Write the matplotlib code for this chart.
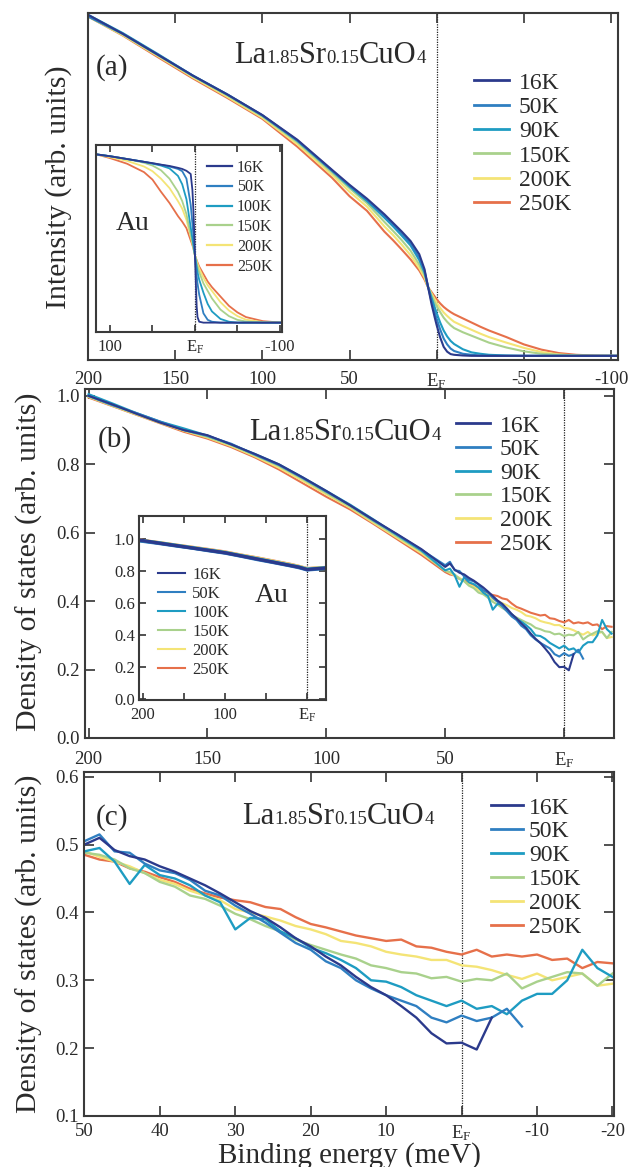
import numpy as np
import matplotlib
matplotlib.use("Agg")
import matplotlib.pyplot as plt
from matplotlib.offsetbox import TextArea, HPacker, AnnotationBbox

plt.rcParams["font.family"] = ["Liberation Serif", "DejaVu Serif"]
plt.rcParams["mathtext.fontset"] = "custom"
plt.rcParams["mathtext.rm"] = "Liberation Serif"
plt.rcParams["mathtext.it"] = "Liberation Serif:italic"
plt.rcParams["mathtext.bf"] = "Liberation Serif:bold"

nan = np.nan

# ---------------- data ----------------
labels_lsco = ["16K", "50K", "90K", "150K", "200K", "250K"]
labels_au = ["16K", "50K", "100K", "150K", "200K", "250K"]
colors = ["#2b3a8c", "#2f7fc1", "#1e9cc2", "#a9d18c", "#f4e476", "#e6704a"]

# (a) raw spectra of LSCO
energy_a = [200, 180, 160, 140, 120, 100, 80, 60, 50, 40, 30, 25, 20, 15, 10, 7, 5, 3, 1, 0,
            -2, -4, -6, -8, -10, -15, -20, -25, -30, -40, -50, -60, -70, -80, -90, -104]
a_16K = [0.995, 0.94, 0.88, 0.82, 0.765, 0.706, 0.635, 0.548, 0.505, 0.465, 0.42, 0.395, 0.37, 0.343,
         0.305, 0.262, 0.212, 0.162, 0.12, 0.10,
         0.065, 0.038, 0.024, 0.017, 0.015, 0.013, 0.012, 0.012, 0.012, 0.012, 0.012, 0.012, 0.012,
         0.012, 0.012, 0.012]
a_50K = [0.99, 0.94, 0.88, 0.82, 0.765, 0.705, 0.633, 0.546, 0.503, 0.462, 0.415, 0.39, 0.364, 0.336,
         0.295, 0.258, 0.212, 0.17, 0.135, 0.118,
         0.088, 0.062, 0.045, 0.033, 0.026, 0.018, 0.015, 0.013, 0.012, 0.012, 0.012, 0.012, 0.012,
         0.012, 0.012, 0.012]
a_90K = [0.995, 0.942, 0.882, 0.82, 0.765, 0.705, 0.632, 0.545, 0.50, 0.458, 0.41, 0.385, 0.358, 0.33,
         0.288, 0.252, 0.212, 0.18, 0.15, 0.135,
         0.108, 0.085, 0.068, 0.055, 0.046, 0.031, 0.022, 0.018, 0.015, 0.013, 0.012, 0.012, 0.012,
         0.012, 0.012, 0.012]
a_150K = [0.99, 0.938, 0.878, 0.818, 0.762, 0.702, 0.628, 0.54, 0.495, 0.452, 0.398, 0.372, 0.345, 0.315,
          0.275, 0.245, 0.211, 0.188, 0.165, 0.155,
          0.138, 0.122, 0.11, 0.10, 0.092, 0.08, 0.07, 0.06, 0.05, 0.036, 0.025, 0.018, 0.015,
          0.013, 0.012, 0.012]
a_200K = [0.99, 0.936, 0.876, 0.815, 0.758, 0.698, 0.622, 0.533, 0.485, 0.442, 0.385, 0.36, 0.332, 0.302,
          0.265, 0.238, 0.21, 0.192, 0.174, 0.165,
          0.15, 0.137, 0.127, 0.118, 0.11, 0.098, 0.087, 0.076, 0.066, 0.05, 0.035, 0.023, 0.016,
          0.013, 0.012, 0.012]
a_250K = [0.99, 0.935, 0.873, 0.812, 0.755, 0.695, 0.615, 0.525, 0.472, 0.43, 0.37, 0.345, 0.318, 0.29,
          0.258, 0.232, 0.21, 0.196, 0.182, 0.175,
          0.163, 0.153, 0.145, 0.138, 0.132, 0.12, 0.108, 0.096, 0.085, 0.066, 0.045, 0.03, 0.02,
          0.015, 0.013, 0.012]

# (a) inset: Au Fermi edges
energy_au = [116, 100, 80, 60, 50, 40, 30, 20, 15, 10, 5, 3, 2, 1, 0,
             -1, -2, -3, -5, -10, -15, -20, -30, -40, -50, -60, -80, -102]
au_16K = [0.95, 0.94, 0.925, 0.91, 0.903, 0.895, 0.888, 0.878, 0.872, 0.862, 0.845, 0.76, 0.67, 0.55, 0.41,
          0.27, 0.14, 0.08, 0.055, 0.05, 0.05, 0.05, 0.05, 0.05, 0.05, 0.05, 0.05, 0.05]
au_50K = [0.95, 0.94, 0.925, 0.91, 0.902, 0.894, 0.885, 0.872, 0.86, 0.82, 0.68, 0.58, 0.53, 0.47, 0.41,
          0.35, 0.30, 0.26, 0.20, 0.10, 0.065, 0.055, 0.05, 0.05, 0.05, 0.05, 0.05, 0.05]
au_100K = [0.95, 0.94, 0.925, 0.91, 0.90, 0.89, 0.875, 0.835, 0.79, 0.71, 0.56, 0.50, 0.47, 0.44, 0.41,
           0.38, 0.35, 0.32, 0.28, 0.21, 0.15, 0.11, 0.07, 0.055, 0.05, 0.05, 0.05, 0.05]
au_150K = [0.95, 0.94, 0.925, 0.905, 0.89, 0.865, 0.82, 0.75, 0.70, 0.63, 0.52, 0.48, 0.46, 0.435, 0.41,
           0.39, 0.37, 0.35, 0.32, 0.26, 0.22, 0.18, 0.12, 0.085, 0.065, 0.056, 0.05, 0.05]
au_200K = [0.95, 0.935, 0.915, 0.885, 0.86, 0.82, 0.77, 0.70, 0.66, 0.60, 0.51, 0.475, 0.455, 0.43, 0.41,
           0.395, 0.38, 0.365, 0.34, 0.29, 0.25, 0.22, 0.16, 0.115, 0.085, 0.066, 0.053, 0.05]
au_250K = [0.95, 0.93, 0.90, 0.855, 0.815, 0.75, 0.69, 0.62, 0.59, 0.555, 0.49, 0.465, 0.45, 0.43, 0.41,
           0.397, 0.385, 0.372, 0.35, 0.31, 0.27, 0.24, 0.19, 0.14, 0.105, 0.08, 0.058, 0.05]

# (b),(c) density of states of LSCO
energy_dos = [200, 190, 180, 170, 160, 150, 140, 130, 120, 110, 100, 90, 80, 70, 60,
              50, 48, 46, 44, 42, 40, 38, 36, 34, 32, 30, 28, 26, 24, 22, 20, 18, 16, 14, 12,
              10, 8, 6, 4, 2, 0, -2, -4, -6, -8, -10, -12, -14, -16, -18, -20]
dos_16K = [1.0, 0.975, 0.948, 0.922, 0.9, 0.885, 0.858, 0.83, 0.8, 0.762, 0.722, 0.68, 0.637, 0.595, 0.552,
           0.500, 0.510, 0.492, 0.483, 0.478, 0.468, 0.460, 0.450, 0.440, 0.428, 0.415, 0.402, 0.392,
           0.378, 0.362, 0.350, 0.335, 0.322, 0.305, 0.290, 0.278, 0.262, 0.245, 0.222, 0.207, 0.208,
           0.198, 0.245, nan, nan, nan, nan, nan, nan, nan, nan]
dos_50K = [1.0, 0.973, 0.95, 0.925, 0.9, 0.883, 0.86, 0.828, 0.798, 0.76, 0.72, 0.68, 0.635, 0.594, 0.55,
           0.505, 0.515, 0.490, 0.488, 0.472, 0.462, 0.458, 0.448, 0.432, 0.425, 0.410, 0.398, 0.385,
           0.370, 0.355, 0.345, 0.328, 0.318, 0.300, 0.288, 0.278, 0.270, 0.262, 0.245, 0.238, 0.248,
           0.240, 0.245, 0.258, 0.232, nan, nan, nan, nan, nan, nan]
dos_90K = [1.005, 0.978, 0.95, 0.925, 0.905, 0.884, 0.858, 0.83, 0.8, 0.762, 0.722, 0.682, 0.638, 0.592, 0.548,
           0.490, 0.495, 0.475, 0.442, 0.470, 0.455, 0.450, 0.440, 0.425, 0.415, 0.375, 0.392, 0.390,
           0.372, 0.362, 0.348, 0.340, 0.330, 0.318, 0.300, 0.298, 0.290, 0.278, 0.270, 0.262, 0.270,
           0.258, 0.262, 0.250, 0.270, 0.280, 0.280, 0.300, 0.345, 0.318, 0.305]
dos_150K = [0.998, 0.972, 0.947, 0.922, 0.9, 0.88, 0.856, 0.826, 0.795, 0.757, 0.716, 0.676, 0.632, 0.588, 0.545,
            0.488, 0.485, 0.478, 0.465, 0.458, 0.445, 0.438, 0.425, 0.420, 0.410, 0.398, 0.390, 0.380,
            0.372, 0.360, 0.352, 0.345, 0.338, 0.332, 0.322, 0.318, 0.312, 0.310, 0.303, 0.305, 0.298,
            0.302, 0.300, 0.310, 0.288, 0.298, 0.305, 0.312, 0.310, 0.292, 0.310]
dos_200K = [0.997, 0.971, 0.946, 0.921, 0.898, 0.878, 0.853, 0.823, 0.79, 0.752, 0.712, 0.673, 0.628, 0.584, 0.54,
            0.490, 0.482, 0.475, 0.468, 0.458, 0.448, 0.442, 0.432, 0.425, 0.418, 0.405, 0.400, 0.394,
            0.388, 0.380, 0.375, 0.368, 0.358, 0.355, 0.350, 0.342, 0.338, 0.335, 0.330, 0.330, 0.322,
            0.320, 0.315, 0.308, 0.302, 0.310, 0.300, 0.305, 0.310, 0.292, 0.295]
dos_250K = [0.995, 0.97, 0.945, 0.92, 0.895, 0.875, 0.85, 0.82, 0.785, 0.745, 0.705, 0.668, 0.625, 0.58, 0.535,
            0.485, 0.478, 0.475, 0.465, 0.460, 0.452, 0.445, 0.435, 0.428, 0.422, 0.418, 0.415, 0.408,
            0.405, 0.393, 0.383, 0.378, 0.372, 0.366, 0.362, 0.358, 0.360, 0.350, 0.348, 0.342, 0.338,
            0.345, 0.335, 0.338, 0.335, 0.338, 0.330, 0.332, 0.318, 0.327, 0.325]

# (b) inset: Au density of states
energy_au_dos = [205, 180, 160, 140, 120, 100, 80, 60, 40, 20, 10, 0, -10, -23]
au_dos_16K = [0.995, 0.975, 0.96, 0.945, 0.93, 0.915, 0.895, 0.875, 0.855, 0.835, 0.825, 0.81, 0.815, 0.82]
au_dos_50K = [0.99, 0.973, 0.958, 0.944, 0.928, 0.913, 0.893, 0.872, 0.853, 0.833, 0.822, 0.808, 0.812, 0.818]
au_dos_100K = [0.992, 0.976, 0.961, 0.946, 0.931, 0.916, 0.896, 0.876, 0.856, 0.836, 0.826, 0.812, 0.816, 0.82]
au_dos_150K = [0.993, 0.977, 0.962, 0.947, 0.932, 0.917, 0.898, 0.878, 0.858, 0.838, 0.828, 0.814, 0.818, 0.822]
au_dos_200K = [0.994, 0.977, 0.962, 0.948, 0.933, 0.918, 0.899, 0.88, 0.86, 0.84, 0.829, 0.815, 0.818, 0.822]
au_dos_250K = [0.995, 0.978, 0.963, 0.949, 0.935, 0.92, 0.9, 0.882, 0.862, 0.842, 0.83, 0.816, 0.819, 0.823]

series_a = [a_16K, a_50K, a_90K, a_150K, a_200K, a_250K]
series_au = [au_16K, au_50K, au_100K, au_150K, au_200K, au_250K]
series_dos = [dos_16K, dos_50K, dos_90K, dos_150K, dos_200K, dos_250K]
series_au_dos = [au_dos_16K, au_dos_50K, au_dos_100K, au_dos_150K, au_dos_200K, au_dos_250K]

# ---------------- figure ----------------
W, H = 633, 1167
fig = plt.figure(figsize=(W / 100, H / 100), dpi=100)
TXT = "#2a2a2a"
EF = r"$\mathrm{E_F}$"


def add_ax(l, t, r, b):
    return fig.add_axes([l / W, 1 - b / H, (r - l) / W, (b - t) / H])


def style(ax, length=7, size=13.5, xpad=7, ypad=4):
    ax.tick_params(direction="in", top=True, right=True, length=length, width=1.2,
                   labelsize=size, colors="#333333", labelcolor=TXT)
    ax.tick_params(axis="x", pad=xpad)
    ax.tick_params(axis="y", pad=ypad)
    for s in ax.spines.values():
        s.set_linewidth(1.5)
        s.set_color("#3a3a3a")


def draw(ax, x, series, labels, lw):
    lines = [None] * len(series)
    for i in reversed(range(len(series))):
        lines[i], = ax.plot(x, series[i], color=colors[i], lw=lw, label=labels[i])
    return lines


def legend_px(ax, lines, labels, left, top, fs, hl, htp, ls, handle_lw=None):
    leg = ax.legend(lines, labels, loc="upper left", bbox_to_anchor=(left / W, 1 - top / H),
                    bbox_transform=fig.transFigure, frameon=False, fontsize=fs, handlelength=hl,
                    handletextpad=htp, labelspacing=ls, borderpad=0, borderaxespad=0,
                    labelcolor=TXT)
    if handle_lw is not None:
        for h in leg.get_lines():
            h.set_linewidth(handle_lw)
    return leg


def formula(x_left, baseline):
    parts = [("La", 22), ("1.85", 13.5), ("Sr", 22), ("0.15", 13.5), ("CuO", 22), ("4", 13.5)]
    boxes = [TextArea(t, textprops=dict(fontsize=s, color=TXT)) for t, s in parts]
    pack = HPacker(children=boxes, align="baseline", pad=0, sep=0)
    desc = 0.217 * 22 * 100 / 72
    ab = AnnotationBbox(pack, (x_left, H - baseline - desc), xycoords="figure pixels",
                        box_alignment=(0, 0), frameon=False, pad=0)
    fig.add_artist(ab)


def ef_line(ax):
    ax.axvline(0, color="#222222", lw=0.9, ls=(0, (1, 1)), zorder=0.5)


def label_px(x, y, s, size, **kw):
    fig.text(x / W, 1 - y / H, s, fontsize=size, ha="center", va="center", color=TXT, **kw)


# ---- panel (a) ----
ax_a = add_ax(88, 13, 618, 360)
lines = draw(ax_a, energy_a, series_a, labels_lsco, 1.5)
ef_line(ax_a)
ax_a.set_xlim(200, -104)
ax_a.set_ylim(0, 1)
ax_a.set_yticks([])
ax_a.set_xticks([200, 150, 100, 50, 0, -50, -100])
ax_a.set_xticklabels(["200", "150", "100", "50", EF, "-50", "-100"])
style(ax_a, xpad=8)
legend_px(ax_a, lines, labels_lsco, 474, 72, 17, 1.48, 0.42, 0.12, handle_lw=2.0)
label_px(112, 68, "(a)", 21)
label_px(59, 187, "Intensity (arb. units)", 21.5, rotation=90)
formula(234, 63)

# ---- inset (a) ----
ax_ai = add_ax(96, 145, 282, 332)
lines = draw(ax_ai, energy_au, series_au, labels_au, 1.3)
ef_line(ax_ai)
ax_ai.set_xlim(116.5, -102.5)
ax_ai.set_ylim(0, 1)
ax_ai.set_yticks([])
ax_ai.set_xticks([100, 50, 0, -50, -100])
ax_ai.set_xticklabels(["100", "", EF, "", "-100"])
style(ax_ai, length=5, size=12, xpad=5)
legend_px(ax_ai, lines, labels_au, 207, 159.5, 11.5, 1.56, 0.31, 0.24, handle_lw=1.6)
label_px(133, 223, "Au", 20)

# ---- panel (b) ----
ax_b = add_ax(85, 389, 614, 738)
lines = draw(ax_b, energy_dos, series_dos, labels_lsco, 1.5)
ef_line(ax_b)
ax_b.set_xlim(201.5, -21)
ax_b.set_ylim(0, 1.02)
ax_b.set_xticks([200, 150, 100, 50, 0])
ax_b.set_xticklabels(["200", "150", "100", "50", EF])
ax_b.set_yticks([0, 0.2, 0.4, 0.6, 0.8, 1.0])
ax_b.set_yticklabels(["0.0", "0.2", "0.4", "0.6", "0.8", "1.0"])
style(ax_b, xpad=9)
legend_px(ax_b, lines, labels_lsco, 456, 415, 17, 1.44, 0.42, 0.09, handle_lw=2.0)
label_px(115, 440, "(b)", 21)
label_px(29, 562, "Density of states (arb. units)", 21.5, rotation=90)
formula(249, 440)

# ---- inset (b) ----
ax_bi = add_ax(139, 516, 326, 700)
lines = draw(ax_bi, energy_au_dos, series_au_dos, labels_au, 2.4)
ef_line(ax_bi)
ax_bi.set_xlim(205, -23)
ax_bi.set_ylim(-0.005, 1.145)
ax_bi.set_xticks([200, 150, 100, 50, 0])
ax_bi.set_xticklabels(["200", "", "100", "", EF])
ax_bi.set_yticks([0, 0.2, 0.4, 0.6, 0.8, 1.0])
ax_bi.set_yticklabels(["0.0", "0.2", "0.4", "0.6", "0.8", "1.0"])
style(ax_bi, length=5, size=12, xpad=5, ypad=3)
legend_px(ax_bi, lines, labels_au, 158, 567, 12, 1.62, 0.42, 0.18, handle_lw=1.5)
label_px(272, 596, "Au", 20)

# ---- panel (c) ----
ax_c = add_ax(84, 772, 614, 1116)
lines = draw(ax_c, energy_dos, series_dos, labels_lsco, 1.7)
ef_line(ax_c)
ax_c.set_xlim(50.05, -20.2)
ax_c.set_ylim(0.1, 0.607)
ax_c.set_xticks([50, 40, 30, 20, 10, 0, -10, -20])
ax_c.set_xticklabels(["50", "40", "30", "20", "10", EF, "-10", "-20"])
ax_c.set_yticks([0.1, 0.2, 0.3, 0.4, 0.5, 0.6])
ax_c.set_yticklabels(["0.1", "0.2", "0.3", "0.4", "0.5", "0.6"])
style(ax_c, xpad=5)
legend_px(ax_c, lines, labels_lsco, 491, 797, 17, 1.36, 0.25, 0.1, handle_lw=2.0)
label_px(112, 818, "(c)", 21)
label_px(29, 944, "Density of states (arb. units)", 21.5, rotation=90)
fig.text(349 / W, 4 / H, "Binding energy (meV)", ha="center", va="baseline",
         fontsize=21, color=TXT)
formula(242, 824)

fig.savefig("out.png", dpi=100)
